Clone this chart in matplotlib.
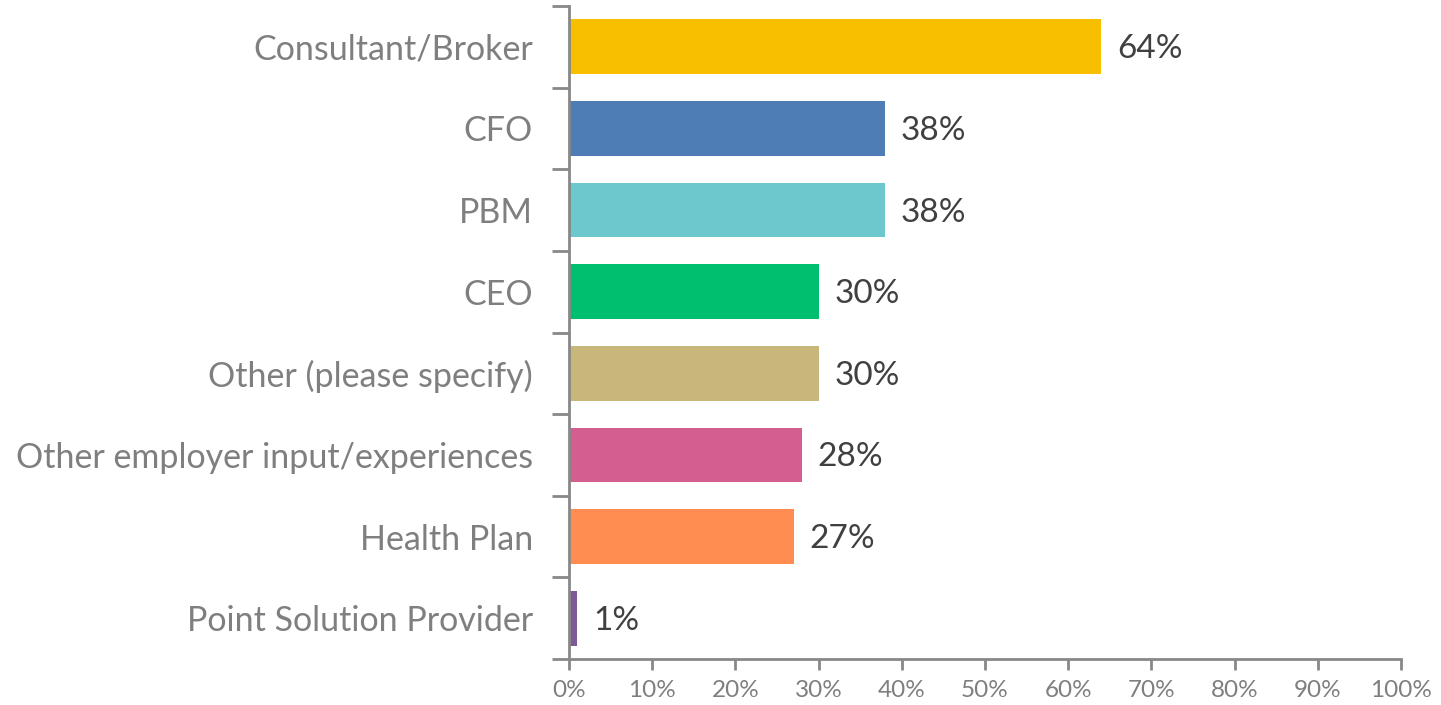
import numpy as np
from matplotlib import pyplot as plt
from matplotlib.ticker import FixedLocator, PercentFormatter

categories = ['Consultant/Broker', 'CFO', 'PBM', 'CEO', 'Other (please specify)',
              'Other employer input/experiences', 'Health Plan', 'Point Solution Provider']
values = [64, 38, 38, 30, 30, 28, 27, 1]
colors = ['#F8BE00', '#4E7DB6', '#6CC8CC', '#00BF6F', '#C8B77A', '#D35E8F', '#FF8C50', '#7D5A96']

plt.rcParams['font.family'] = ['Lato', 'DejaVu Sans']

fig = plt.figure(figsize=(14.41, 7.05), dpi=100)
ax = fig.add_axes([0.3949, 0.0652, 0.5773, 0.9263])

y = np.arange(len(categories))
bars = ax.barh(y, values, height=0.67, color=colors)
for yi, v in zip(y, values):
    ax.text(v + 1.9, yi + 0.03, f'{v}%', va='center', ha='left', fontsize=24, color='#404040')

ax.set_xlim(0, 100)
ax.set_ylim(len(categories) - 0.5, -0.5)
ax.set_xticks(np.arange(0, 101, 10))
ax.xaxis.set_major_formatter(PercentFormatter(decimals=0))
ax.set_yticks(y)
ax.set_yticklabels(categories)
ax.yaxis.set_minor_locator(FixedLocator(np.arange(-0.5, len(categories), 1)))
ax.tick_params(axis='y', which='major', length=0, pad=26, labelsize=24.5, labelcolor='#7F7F7F')
ax.tick_params(axis='y', which='minor', length=12, width=2, color='#888888')
ax.tick_params(axis='x', length=8, width=2, color='#888888', labelsize=17.5,
               labelcolor='#7F7F7F', pad=7)

for s in ['top', 'right']:
    ax.spines[s].set_visible(False)
for s in ['left', 'bottom']:
    ax.spines[s].set_color('#888888')
    ax.spines[s].set_linewidth(2)

fig.savefig('out.png', dpi=100)
